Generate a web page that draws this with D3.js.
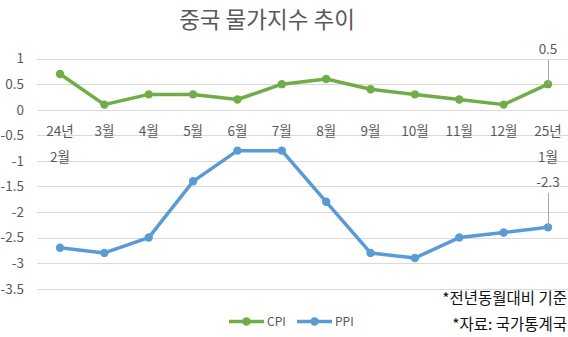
<!DOCTYPE html>
<html><head><meta charset="utf-8">
<script src="https://cdn.jsdelivr.net/npm/d3@7"></script>
<style>body{margin:0;background:#fff}svg{display:block}text{font-family:"Noto Sans CJK KR","Noto Sans",sans-serif}</style>
</head><body>
<svg id="c" width="568" height="337"></svg>
<script>
const months = ["24년|2월","3월","4월","5월","6월","7월","8월","9월","10월","11월","12월","25년|1월"];
const cpi = [0.7,0.1,0.3,0.3,0.2,0.5,0.6,0.4,0.3,0.2,0.1,0.5];
const ppi = [-2.7,-2.8,-2.5,-1.4,-0.8,-0.8,-1.8,-2.8,-2.9,-2.5,-2.4,-2.3];
const yTicks = [1,0.5,0,-0.5,-1,-1.5,-2,-2.5,-3,-3.5];
const seriesNames = ["CPI","PPI"];
const colors = ["#70AD47","#5B9BD5"];

const svg = d3.select("#c");
const x = d3.scalePoint().domain(d3.range(months.length)).range([60,548]);
const y = d3.scaleLinear().domain([-3.5,1]).range([288.7,58.6]);

// title
svg.append("text").attr("x",267).attr("y",28).attr("text-anchor","middle")
  .attr("font-size",22.5).attr("fill","#595959").text("중국 물가지수 추이");

// grid
svg.append("g").selectAll("line").data(yTicks).join("line")
  .attr("x1",37).attr("x2",568).attr("y1",d=>Math.round(y(d))+0.5).attr("y2",d=>Math.round(y(d))+0.5)
  .attr("stroke","#d9d9d9").attr("stroke-width",1);

// y axis labels
const yAxis = d3.axisLeft(y).tickValues(yTicks).tickSize(0).tickPadding(0).tickFormat(d=>String(d));
const ga = svg.append("g").attr("transform","translate(24,0)").call(yAxis);
ga.select(".domain").remove();
ga.selectAll("text").attr("font-size",13.5).attr("fill","#595959").attr("font-family","\"Noto Sans CJK KR\",sans-serif");

// x labels
const xl = svg.append("g").selectAll("text").data(months).join("text")
  .attr("x",(d,i)=>x(i)).attr("text-anchor","middle").attr("font-size",13.5).attr("fill","#595959");
xl.each(function(d){
  const parts = d.split("|");
  const t = d3.select(this);
  parts.forEach((p,k)=>t.append("tspan").attr("x",t.attr("x")).attr("y",136+k*26).text(p));
});

// lines
const line = d3.line().x((d,i)=>x(i)).y(d=>y(d));
[cpi,ppi].forEach((s,k)=>{
  svg.append("path").datum(s).attr("d",line).attr("fill","none")
    .attr("stroke",colors[k]).attr("stroke-width",3.5).attr("stroke-linejoin","round");
  svg.append("g").selectAll("circle").data(s).join("circle")
    .attr("cx",(d,i)=>x(i)).attr("cy",d=>y(d)).attr("r",4.2).attr("fill",colors[k]);
});

// data labels for last point
const last = months.length-1;
[[cpi,54,60],[ppi,187,193]].forEach(([s,ty,ly])=>{
  svg.append("line").attr("x1",x(last)+0.5).attr("x2",x(last)+0.5).attr("y1",ly).attr("y2",y(s[last]))
    .attr("stroke","#a6a6a6").attr("stroke-width",1);
  svg.append("text").attr("x",x(last)).attr("y",ty).attr("text-anchor","middle")
    .attr("font-size",13.5).attr("fill","#595959").text(s[last]);
});

// legend
const lg = svg.append("g");
[[229,"CPI"],[297,"PPI"]].forEach(([lx,name],k)=>{
  lg.append("line").attr("x1",lx).attr("x2",lx+35).attr("y1",321.5).attr("y2",321.5)
    .attr("stroke",colors[k]).attr("stroke-width",3.5);
  lg.append("circle").attr("cx",lx+17.5).attr("cy",321.5).attr("r",4.2).attr("fill",colors[k]);
  lg.append("text").attr("x",lx+38).attr("y",326).attr("font-size",12).attr("fill","#595959").text(seriesNames[k]);
});

// notes
svg.append("text").attr("x",567).attr("y",303.5).attr("text-anchor","end").attr("font-size",15.5).attr("fill","#111").text("*전년동월대비 기준");
svg.append("text").attr("x",567).attr("y",329.5).attr("text-anchor","end").attr("font-size",15.5).attr("fill","#111").text("*자료: 국가통계국");
</script>
</body></html>
